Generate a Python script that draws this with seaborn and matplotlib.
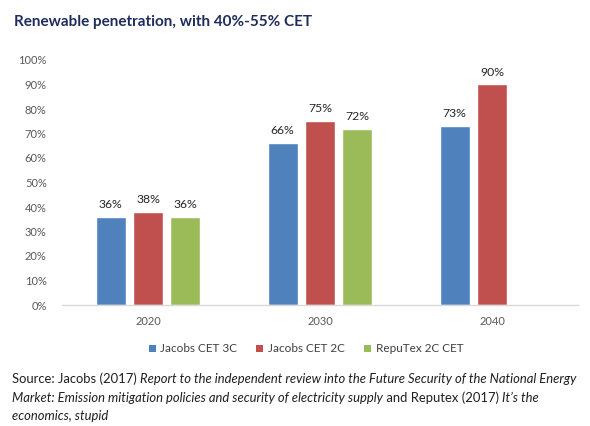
import matplotlib
matplotlib.use("Agg")
import matplotlib.pyplot as plt
import seaborn as sns
import pandas as pd
from matplotlib.ticker import PercentFormatter
from matplotlib.patches import Patch

years = ["2020", "2030", "2040"]
series = ["Jacobs CET 3C", "Jacobs CET 2C", "RepuTex 2C CET"]
jacobs_3c = [36, 66, 73]
jacobs_2c = [38, 75, 90]
reputex_2c = [36, 72]  # no 2040 value
colors = ["#4F81BD", "#C0504D", "#9BBB59"]
yticks = [0, 10, 20, 30, 40, 50, 60, 70, 80, 90, 100]

rows = []
for s, vals in zip(series, [jacobs_3c, jacobs_2c, reputex_2c]):
    for y, v in zip(years, vals):
        rows.append({"year": y, "series": s, "value": v})
df = pd.DataFrame(rows)

sns.set_theme(style="white")
plt.rcParams["font.family"] = ["Lato", "DejaVu Sans"]

fig = plt.figure(figsize=(5.9, 4.26), dpi=100)
ax = fig.add_axes([62 / 590, 1 - 305 / 426, (578 - 62) / 590, (305 - 60) / 426])

sns.barplot(data=df, x="year", y="value", hue="series", order=years,
            hue_order=series, palette=colors, width=0.65, gap=0.2,
            saturation=1, ax=ax, legend=False, errorbar=None)

for c in ax.containers:
    ax.bar_label(c, labels=[f"{b.get_height():.0f}%" for b in c],
                 padding=5, fontsize=8.8, color="#262626")

ax.set_xlim(-0.5, 2.5)
ax.set_ylim(0, 100)
ax.set_yticks(yticks)
ax.yaxis.set_major_formatter(PercentFormatter(decimals=0))
ax.set_xlabel("")
ax.set_ylabel("")
ax.tick_params(axis="both", length=0, labelsize=8, colors="#595959")
ax.tick_params(axis="y", pad=11)
ax.tick_params(axis="x", pad=8)
for sp in ["left", "right", "top"]:
    ax.spines[sp].set_visible(False)
ax.spines["bottom"].set_color("#D9D9D9")
ax.spines["bottom"].set_linewidth(1)

# Legend
handles = [Patch(facecolor=c, edgecolor="none") for c in colors]
fig.legend(handles, series, loc="center", bbox_to_anchor=(306 / 590, 1 - 349 / 426),
           ncol=3, frameon=False, fontsize=8.5, handlelength=0.6, handleheight=0.6,
           handletextpad=0.4, columnspacing=1.6, labelcolor="#404040")

# Title
fig.text(14 / 590, 1 - 22 / 426, "Renewable penetration, with 40%-55% CET",
         fontsize=11, fontweight="bold", color="#1F2D5C", va="center", ha="left")

# Source text with mixed styles
lines = [
    [("Source: Jacobs (2017) ", "normal"),
     ("Report to the independent review into the Future Security of the National Energy", "italic")],
    [("Market: Emission mitigation policies and security of electricity supply", "italic"),
     (" and Reputex (2017) ", "normal"), ("It\u2019s the", "italic")],
    [("economics, stupid", "italic")],
]
ys = [379, 398, 416]
fig.canvas.draw()
renderer = fig.canvas.get_renderer()
for pieces, ypix in zip(lines, ys):
    x = 12
    for txt, style in pieces:
        t = fig.text(x / 590, 1 - ypix / 426, txt, fontsize=9.4, style=style,
                     color="#1F1F1F", va="center", ha="left")
        bb = t.get_window_extent(renderer=renderer)
        x += bb.width

fig.savefig("out.png", dpi=100)
